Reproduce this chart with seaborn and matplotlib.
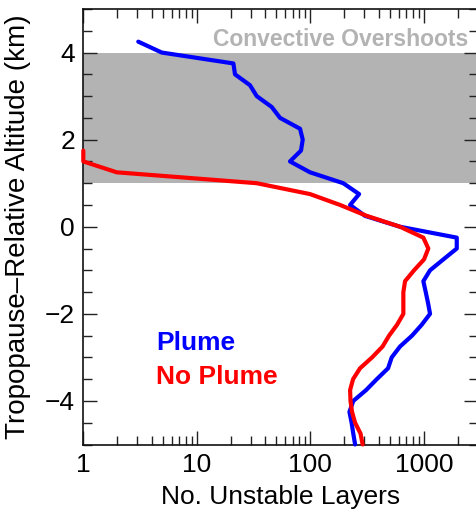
import numpy as np
import pandas as pd
import matplotlib
matplotlib.use("Agg")
import matplotlib.pyplot as plt
import seaborn as sns
from matplotlib.ticker import LogLocator, NullFormatter, FixedLocator, MultipleLocator

# --- data ---
plume_alt = [4.25, 4.0, 3.75, 3.5, 3.25, 3.0, 2.75, 2.5, 2.25, 2.0, 1.75, 1.5, 1.25, 1.0,
             0.75, 0.5, 0.25, 0.0, -0.25, -0.5, -0.75, -1.0, -1.25, -1.5, -1.75, -2.0,
             -2.25, -2.5, -2.75, -3.0, -3.25, -3.5, -3.75, -4.0, -4.25, -4.5, -4.75, -5.0]
plume_n = [3.05, 4.91, 21.0, 21.7, 29.4, 33.7, 45.7, 54.1, 81.2, 85.7, 82.8, 66.2, 99.4, 195,
           269, 224, 303, 617, 1950, 1950, 1485, 1134, 990, 1039, 1089, 1134,
           958, 787, 617, 521, 484, 385, 310, 239, 221, 231, 239, 248]

noplume_alt = [1.75, 1.5, 1.25, 1.0, 0.75, 0.5, 0.25, 0.0, -0.25, -0.5, -0.75, -1.0, -1.25,
               -1.5, -1.75, -2.0, -2.25, -2.5, -2.75, -3.0, -3.25, -3.5, -3.75, -4.0,
               -4.25, -4.5, -4.75, -5.0]
noplume_n = [1.0, 1.0, 1.97, 33.7, 99.4, 183, 314, 617, 990, 1095, 1004, 820, 683,
             660, 660, 660, 581, 494, 433, 350, 274, 238, 224, 226,
             233, 248, 277, 289]

overshoot_band = (1.0, 4.0)
x_ticks = [1, 10, 100, 1000]
y_ticks = [-4, -2, 0, 2, 4]

df = pd.concat([
    pd.DataFrame({"alt": plume_alt, "n": plume_n, "case": "Plume"}),
    pd.DataFrame({"alt": noplume_alt, "n": noplume_n, "case": "No Plume"}),
], ignore_index=True)

sns.set_style("ticks")
plt.rcParams["font.family"] = ["Liberation Sans", "DejaVu Sans"]
plt.rcParams["text.color"] = "black"
plt.rcParams["axes.labelcolor"] = "black"
plt.rcParams["xtick.color"] = "black"
plt.rcParams["ytick.color"] = "black"

W, H = 476, 514
fig = plt.figure(figsize=(W / 100, H / 100), dpi=100)
left, right, top, bottom = 83.3, 478.0, 9.0, 444.5
ax = fig.add_axes([left / W, 1 - bottom / H, (right - left) / W, (bottom - top) / H])

ax.axhspan(*overshoot_band, color="#b3b3b3", lw=0, zorder=0)

sns.lineplot(data=df, x="n", y="alt", hue="case", palette={"Plume": "#0000ff", "No Plume": "#ff0000"},
             sort=False, estimator=None, lw=3.0, legend=False, ax=ax, zorder=3)
for ln in ax.lines:
    ln.set_clip_on(False)

ax.set_xscale("log")
ax.set_xlim(1, 3000)
ax.set_ylim(-5, 5)

ax.xaxis.set_major_locator(FixedLocator(x_ticks))
ax.set_xticklabels([str(t) for t in x_ticks])
ax.xaxis.set_minor_locator(LogLocator(base=10, subs=np.arange(2, 10)))
ax.xaxis.set_minor_formatter(NullFormatter())
ax.yaxis.set_major_locator(FixedLocator(y_ticks))
ax.set_yticklabels([("\u2212" if t < 0 else "") + str(abs(t)) for t in y_ticks])
ax.yaxis.set_minor_locator(MultipleLocator(0.5))

ax.tick_params(which="both", direction="in", top=True, right=True, color="#222222", width=1.0,
               labelsize=19, pad=6, labelcolor="black")
ax.tick_params(which="major", length=10)
ax.tick_params(which="minor", length=6.5)
for s in ax.spines.values():
    s.set_linewidth(1.2)
    s.set_color("#111111")
    s.set_zorder(2.5)

ax.set_xlabel("No. Unstable Layers", fontsize=19, labelpad=6, color="black")
ax.set_ylabel("Tropopause\u2013Relative Altitude (km)", fontsize=20, labelpad=10, color="black")

ax.text(0.975, 0.929, "Convective Overshoots", transform=ax.transAxes, ha="right", va="center",
        fontsize=16.5, fontweight="bold", color="#b3b3b3")
ax.text(0.184, 0.233, "Plume", transform=ax.transAxes, ha="left", va="center",
        fontsize=19, fontweight="bold", color="#0000ff")
ax.text(0.184, 0.155, "No Plume", transform=ax.transAxes, ha="left", va="center",
        fontsize=19, fontweight="bold", color="#ff0000")

fig.savefig("out.png", dpi=100)
